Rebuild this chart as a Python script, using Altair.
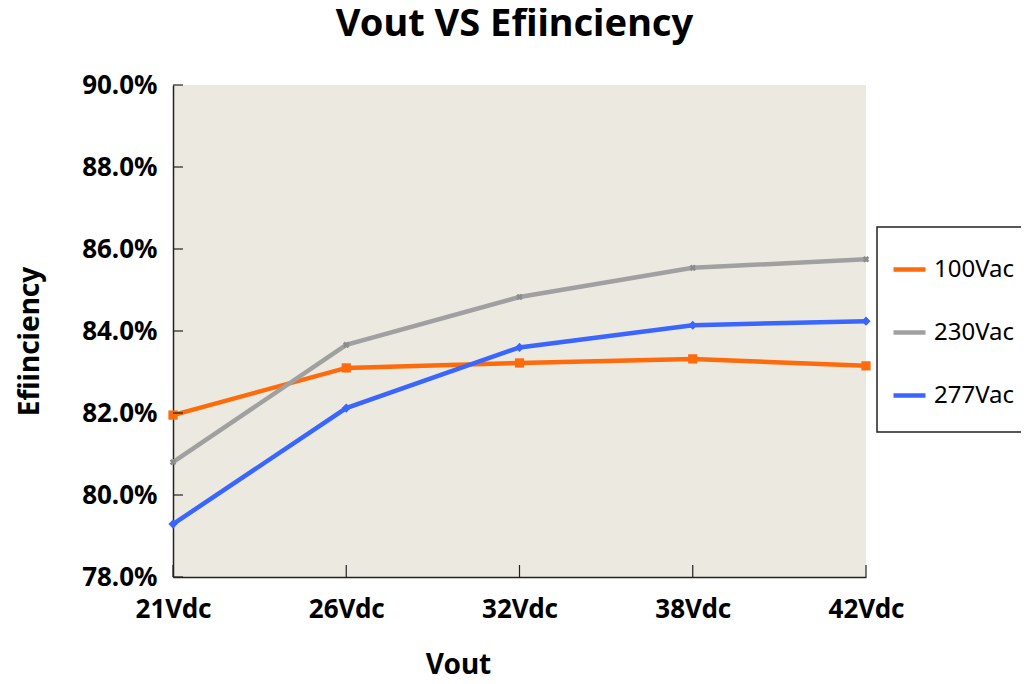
import altair as alt
import pandas as pd

vout = ["21Vdc", "26Vdc", "32Vdc", "38Vdc", "42Vdc"]
series = ["100Vac", "230Vac", "277Vac"]
eff_100 = [0.8195, 0.8310, 0.8322, 0.8332, 0.8315]
eff_230 = [0.8080, 0.8366, 0.8483, 0.8554, 0.8575]
eff_277 = [0.7929, 0.8212, 0.8360, 0.8414, 0.8424]
y_ticks = [0.78, 0.80, 0.82, 0.84, 0.86, 0.88, 0.90]
colors = ["#FF6A0A", "#A0A0A0", "#3A66FF"]

rows = []
for name, vals in zip(series, [eff_100, eff_230, eff_277]):
    for v, e in zip(vout, vals):
        rows.append({"vout": v, "eff": e, "series": name})
df = pd.DataFrame(rows)
ytick_df = pd.DataFrame({"eff": y_ticks})
xtick_df = pd.DataFrame({"vout": vout})

FONT = "Noto Sans"
W, H = 693, 492

x_enc = alt.X(
    "vout:N",
    scale=alt.Scale(type="point", domain=vout, padding=0),
    axis=alt.Axis(
        title="Vout", labelAngle=0, labelFont=FONT, labelFontSize=26,
        labelFontWeight="bold", labelColor="black", labelPadding=19,
        tickSize=0, domainColor="#222222", domainWidth=1.5,
        titleFont=FONT, titleFontSize=28, titleFontWeight="bold",
        titleColor="black", titleX=285, titleY=96,
        titleBaseline="alphabetic", grid=False,
    ),
)
y_enc = alt.Y(
    "eff:Q",
    scale=alt.Scale(domain=[0.78, 0.90], nice=False, zero=False),
    axis=alt.Axis(
        title="Efiinciency", format=".1%", values=y_ticks,
        labelFont=FONT, labelFontSize=26, labelFontWeight="bold",
        labelColor="black", labelPadding=16, tickSize=0,
        domainColor="#222222", domainWidth=1.5,
        titleFont=FONT, titleFontSize=28, titleFontWeight="bold",
        titleColor="black", titleX=-135, titleY=256, titleAngle=270,
        titleBaseline="alphabetic", grid=False,
    ),
)
color_enc = alt.Color(
    "series:N",
    scale=alt.Scale(domain=series, range=colors),
    legend=alt.Legend(
        title=None, orient="none", legendX=704, legendY=142,
        fillColor="white", strokeColor="#222222",
        padding=24, symbolType="stroke", symbolStrokeWidth=4.5,
        symbolSize=1024, symbolOffset=-10, labelFont=FONT, labelFontSize=24,
        labelColor="black", rowPadding=32, labelOffset=6,
    ),
)

lines = alt.Chart(df).mark_line(strokeWidth=4.5).encode(
    x=x_enc, y=y_enc, color=color_enc
)
pts_a = alt.Chart(df).transform_filter(
    alt.datum.series != "230Vac"
).mark_point(filled=True, opacity=1, size=85).encode(
    x=x_enc, y=y_enc,
    color=alt.Color("series:N", scale=alt.Scale(domain=series, range=colors), legend=None),
    shape=alt.Shape("series:N", scale=alt.Scale(domain=["100Vac", "277Vac"], range=["square", "diamond"]), legend=None),
)
pts_b = alt.Chart(df).transform_filter(
    alt.datum.series == "230Vac"
).mark_point(filled=True, opacity=1, size=45, shape="cross", angle=45, color="#8C8C8C").encode(
    x=x_enc, y=y_enc,
)

ytick_rules = alt.Chart(ytick_df).mark_rule(color="#222222", strokeWidth=1.2).encode(
    y=alt.Y("eff:Q"), x=alt.value(0), x2=alt.value(10)
)
xtick_rules = alt.Chart(xtick_df).mark_rule(color="#222222", strokeWidth=1.2).encode(
    x=alt.X("vout:N"), y=alt.value(H), y2=alt.value(H - 12)
)

chart = alt.layer(lines, pts_b, pts_a, ytick_rules, xtick_rules).properties(
    width=W, height=H,
    title=alt.Title("Vout VS Efiinciency", font=FONT, fontSize=38,
                    fontWeight="bold", color="black", anchor="middle",
                    offset=38, dx=-5, dy=10),
    autosize=alt.AutoSizeParams(type="none"),
    padding={"left": 165, "top": 77, "right": 155, "bottom": 107},
    background="white",
).configure_view(
    fill="#ECEAE0", stroke=None
).configure_legend(
    strokeWidth=1.5
)

chart.save("out.html", embed_options={"renderer": "svg", "actions": False})
